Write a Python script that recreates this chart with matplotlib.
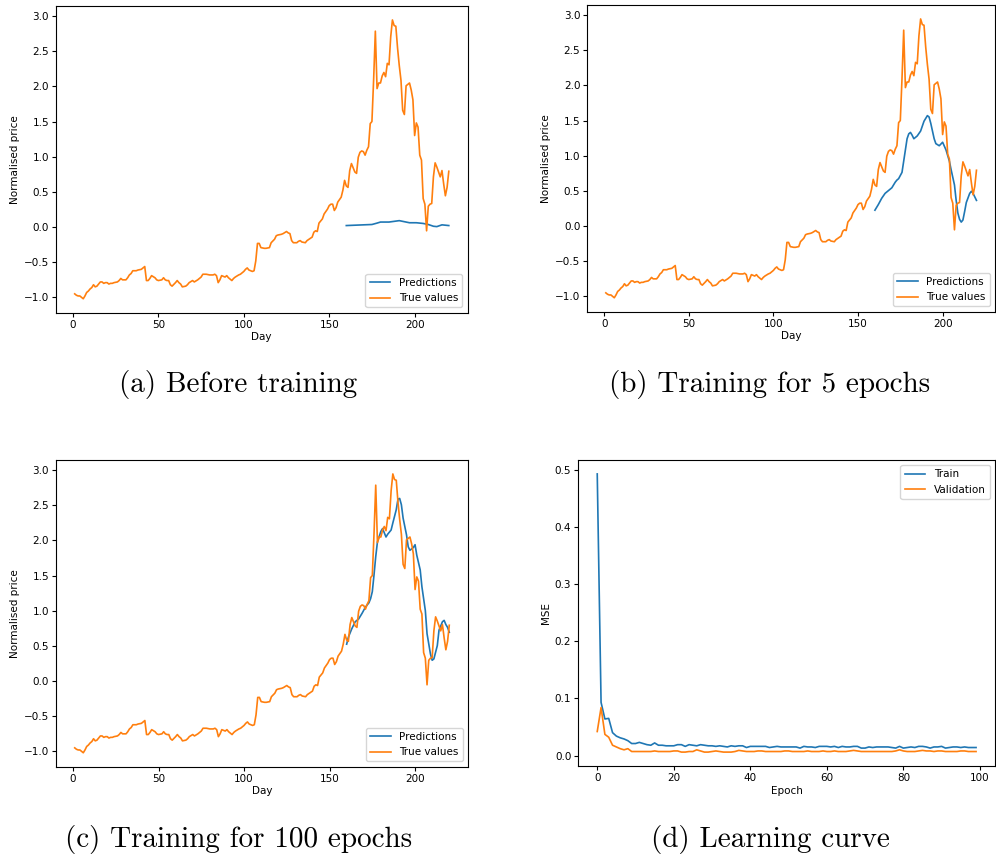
import numpy as np
import matplotlib
matplotlib.use("Agg")
import matplotlib.pyplot as plt

# ------------------------- data -------------------------
true_days = [1, 2, 3, 4, 5, 6, 7, 8, 9, 10, 11, 12, 13, 14, 15, 16, 17, 18, 19, 20,
             21, 22, 23, 24, 26, 27, 28, 29, 31, 32, 33, 34, 35, 37, 38, 40, 41, 42, 43, 44,
             45, 46, 48, 49, 50, 52, 53, 54, 55, 56, 57, 58, 60, 61, 62, 63, 64, 66, 67, 68,
             70, 71, 73, 74, 75, 76, 78, 80, 82, 83, 84, 85, 86, 87, 89, 90, 91, 93, 94, 95,
             97, 98, 100, 101, 102, 103, 105, 106, 107, 108, 109, 110, 112, 113, 115, 116, 118, 119, 120, 122,
             123, 125, 126, 127, 128, 129, 131, 132, 133, 134, 136, 137, 140, 141, 142, 143, 144, 146, 147, 149,
             150, 151, 152, 153, 154, 155, 157, 158, 159, 160, 161, 162, 163, 164, 165, 166, 167, 168, 169, 170,
             171, 172, 173, 174, 175, 176, 177, 178, 179, 180, 181, 182, 183, 184, 185, 186, 187, 188, 189, 190,
             191, 192, 193, 194, 195, 196, 197, 198, 199, 200, 201, 202, 203, 204, 205, 206, 207, 208, 209, 210,
             211, 212, 213, 214, 215, 216, 217, 218, 219, 220]
true_vals = [-0.96, -0.98, -0.99, -0.99, -1.01, -1.03, -0.99, -0.94, -0.92, -0.89, -0.87, -0.83, -0.86, -0.85, -0.82, -0.79, -0.79, -0.81, -0.80, -0.80,
             -0.82, -0.81, -0.81, -0.80, -0.79, -0.77, -0.74, -0.76, -0.76, -0.73, -0.69, -0.67, -0.63, -0.63, -0.62, -0.61, -0.59, -0.57, -0.77, -0.77,
             -0.74, -0.70, -0.73, -0.76, -0.77, -0.76, -0.73, -0.76, -0.77, -0.77, -0.83, -0.85, -0.80, -0.77, -0.80, -0.82, -0.86, -0.85, -0.83, -0.80,
             -0.77, -0.79, -0.76, -0.74, -0.72, -0.68, -0.68, -0.69, -0.69, -0.68, -0.70, -0.80, -0.76, -0.70, -0.72, -0.70, -0.73, -0.77, -0.74, -0.72,
             -0.69, -0.68, -0.64, -0.61, -0.59, -0.62, -0.64, -0.63, -0.49, -0.24, -0.24, -0.30, -0.31, -0.31, -0.30, -0.23, -0.18, -0.13, -0.12, -0.11,
             -0.10, -0.07, -0.09, -0.10, -0.20, -0.23, -0.23, -0.21, -0.20, -0.22, -0.23, -0.20, -0.15, -0.08, -0.06, -0.07, 0.05, 0.11, 0.18, 0.25,
             0.30, 0.32, 0.32, 0.23, 0.27, 0.35, 0.42, 0.52, 0.66, 0.58, 0.56, 0.80, 0.90, 0.84, 0.78, 0.76, 0.99, 1.06, 1.08, 1.07,
             1.02, 1.09, 1.14, 1.47, 1.50, 2.10, 2.79, 1.97, 2.05, 2.05, 2.15, 2.20, 2.14, 2.33, 2.31, 2.71, 2.95, 2.87, 2.86, 2.55,
             2.30, 2.09, 1.66, 1.60, 2.01, 2.03, 2.05, 1.95, 1.81, 1.30, 1.48, 1.42, 1.02, 0.95, 0.40, 0.32, -0.06, 0.29, 0.32, 0.33,
             0.71, 0.91, 0.85, 0.78, 0.71, 0.80, 0.61, 0.44, 0.56, 0.79]

# predictions before training
pred0_days = [160, 165, 170, 175, 178, 180, 185, 188, 191, 194, 197, 201, 205, 208, 211, 213, 216, 220]
pred0_vals = [0.015, 0.02, 0.025, 0.03, 0.05, 0.065, 0.065, 0.075, 0.085, 0.07, 0.055, 0.055, 0.045, 0.03, 0.005, 0.0, 0.025, 0.015]

# predictions after 5 epochs
pred5_days = [160, 162, 164, 166, 168, 170, 172, 173, 174, 176, 177, 179, 180, 181, 182, 183, 185, 187, 189, 191, 192,
              193, 195, 196, 198, 200, 202, 204, 205, 207, 208, 209, 210, 211, 212, 213, 214, 216, 217, 218, 219, 220]
pred5_vals = [0.22, 0.30, 0.39, 0.46, 0.50, 0.54, 0.62, 0.65, 0.67, 0.76, 0.92, 1.24, 1.31, 1.33, 1.29, 1.24, 1.28, 1.35, 1.49, 1.57, 1.55,
              1.46, 1.24, 1.17, 1.14, 1.19, 1.08, 0.92, 0.80, 0.58, 0.36, 0.18, 0.09, 0.05, 0.08, 0.20, 0.33, 0.46, 0.49, 0.46, 0.41, 0.36]

# predictions after 100 epochs
pred100_days = [160, 161, 163, 165, 167, 169, 171, 173, 174, 175, 176, 177, 178, 180, 181, 183, 184, 186, 187, 189, 190, 191,
                192, 193, 195, 196, 197, 199, 200, 201, 203, 204, 206, 207, 209, 210, 211, 213, 214, 216, 217, 218, 219, 220]
pred100_vals = [0.52, 0.62, 0.74, 0.84, 0.88, 0.96, 1.05, 1.11, 1.17, 1.27, 1.51, 1.77, 1.98, 2.13, 2.17, 2.05, 2.09, 2.15, 2.25, 2.44, 2.59, 2.60,
                2.51, 2.32, 2.08, 1.91, 1.86, 1.90, 1.94, 1.79, 1.58, 1.34, 1.00, 0.67, 0.38, 0.29, 0.31, 0.50, 0.72, 0.84, 0.86, 0.80, 0.76, 0.69]

# learning curve
train_mse = [0.493, 0.093, 0.064, 0.065, 0.040, 0.034, 0.031, 0.029, 0.026, 0.021,
             0.021, 0.023, 0.021, 0.019, 0.018, 0.022, 0.018, 0.018, 0.017, 0.017,
             0.017, 0.019, 0.019, 0.016, 0.019, 0.018, 0.017, 0.019, 0.018, 0.017,
             0.017, 0.016, 0.017, 0.016, 0.015, 0.017, 0.016, 0.017, 0.017, 0.014,
             0.016, 0.016, 0.016, 0.016, 0.016, 0.014, 0.015, 0.016, 0.015, 0.015,
             0.015, 0.015, 0.015, 0.013, 0.016, 0.015, 0.015, 0.014, 0.016, 0.016,
             0.016, 0.015, 0.016, 0.014, 0.016, 0.015, 0.015, 0.016, 0.016, 0.013,
             0.013, 0.015, 0.014, 0.015, 0.015, 0.015, 0.015, 0.014, 0.013, 0.016,
             0.013, 0.014, 0.015, 0.014, 0.016, 0.016, 0.015, 0.013, 0.015, 0.015,
             0.016, 0.013, 0.014, 0.015, 0.015, 0.014, 0.015, 0.014, 0.014, 0.014]
val_mse = [0.042, 0.084, 0.037, 0.032, 0.018, 0.015, 0.012, 0.010, 0.012, 0.007,
           0.007, 0.007, 0.007, 0.007, 0.007, 0.008, 0.007, 0.007, 0.007, 0.007,
           0.008, 0.008, 0.006, 0.006, 0.007, 0.007, 0.010, 0.008, 0.006, 0.006,
           0.007, 0.008, 0.007, 0.006, 0.006, 0.006, 0.007, 0.009, 0.008, 0.007,
           0.007, 0.007, 0.008, 0.008, 0.007, 0.007, 0.007, 0.007, 0.007, 0.008,
           0.008, 0.007, 0.007, 0.007, 0.007, 0.008, 0.007, 0.007, 0.007, 0.008,
           0.007, 0.007, 0.008, 0.007, 0.007, 0.007, 0.008, 0.009, 0.008, 0.007,
           0.007, 0.007, 0.007, 0.007, 0.007, 0.007, 0.007, 0.007, 0.008, 0.010,
           0.008, 0.007, 0.007, 0.007, 0.008, 0.009, 0.008, 0.008, 0.007, 0.008,
           0.008, 0.007, 0.007, 0.007, 0.007, 0.008, 0.008, 0.007, 0.007, 0.007]
epochs = np.arange(len(train_mse))

captions = ["(a) Before training", "(b) Training for 5 epochs",
            "(c) Training for 100 epochs", "(d) Learning curve"]

# ------------------------- figure -------------------------
FS = 7.5
plt.rcParams.update({"font.size": FS, "axes.linewidth": 0.8,
                     "xtick.major.size": 3, "ytick.major.size": 3,
                     "lines.linewidth": 1.2})

W, H = 996, 859
fig = plt.figure(figsize=(W / 100, H / 100), dpi=100)

def px_axes(l, t, r, b):
    return fig.add_axes([l / W, 1 - b / H, (r - l) / W, (b - t) / H])

boxes = [(56, 6, 467.5, 312.7), (587.3, 5, 995, 311.7),
         (56, 460, 468, 766.7), (578.3, 460, 995, 766)]
preds = [(pred0_days, pred0_vals), (pred5_days, pred5_vals), (pred100_days, pred100_vals)]

for box, (pd_, pv) in zip(boxes[:3], preds):
    ax = px_axes(*box)
    ax.plot(pd_, pv, color="C0", label="Predictions")
    ax.plot(true_days, true_vals, color="C1", label="True values")
    ax.set_xlabel("Day", fontsize=FS, labelpad=2)
    ax.set_ylabel("Normalised price", fontsize=FS, labelpad=3)
    ax.tick_params(labelsize=FS, pad=2)
    ax.legend(loc="lower right", fontsize=FS)

ax = px_axes(*boxes[3])
ax.plot(epochs, train_mse, color="C0", label="Train")
ax.plot(epochs, val_mse, color="C1", label="Validation")
ax.set_xlabel("Epoch", fontsize=FS, labelpad=2)
ax.set_ylabel("MSE", fontsize=FS, labelpad=3)
ax.tick_params(labelsize=FS, pad=2)
ax.legend(loc="upper right", fontsize=FS)

# subfigure captions
cap_pos = [(238.5, 385), (770, 385), (238.5, 840), (770, 840)]
for (cx, cy), txt in zip(cap_pos, captions):
    fig.text(cx / W, 1 - cy / H, txt, ha="center", va="center",
             fontsize=21, family="cmr10")

fig.savefig("out.png", dpi=100)
